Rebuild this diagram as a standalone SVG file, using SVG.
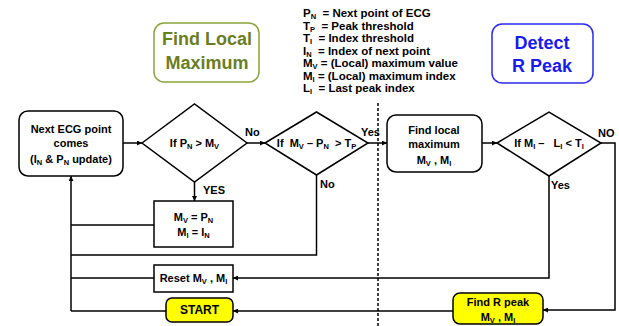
<svg xmlns="http://www.w3.org/2000/svg" width="619" height="326" viewBox="0 0 619 326">
<style>
text{font-family:"Liberation Sans",Arial,sans-serif;font-weight:bold;fill:#000;white-space:pre}
.t{font-size:11px;text-anchor:middle}
.lg{font-size:11.5px}
.s{font-size:7.5px}
.box{fill:#fff;stroke:#000;stroke-width:1.5}
.yel{fill:#ffff00;stroke:#000;stroke-width:1.5}
.ln{fill:none;stroke:#000;stroke-width:1.5}
.dot{fill:none;stroke:#000;stroke-width:1.5;stroke-dasharray:3 2}
</style>
<defs>
<marker id="ah" viewBox="0 0 10 10" refX="10" refY="5" markerWidth="5" markerHeight="5" orient="auto" markerUnits="userSpaceOnUse">
<path d="M0,0 L10,5 L0,10 z" fill="#000"/>
</marker>
</defs>
<rect width="619" height="326" fill="#fff"/>

<g id="title-local">
<rect x="154" y="23" width="105" height="59" rx="10" fill="#fff" stroke="#8aa33a" stroke-width="1.5"/>
<text x="207" y="45" style="font-size:18px;text-anchor:middle;fill:#6b7d22">Find Local</text>
<text x="207" y="69" style="font-size:18px;text-anchor:middle;fill:#6b7d22">Maximum</text>
</g>
<g id="title-detect">
<rect x="492" y="24" width="101" height="59" rx="10" fill="#fff" stroke="#2a2aee" stroke-width="1.5"/>
<text x="542" y="49" style="font-size:18px;text-anchor:middle;fill:#1a1aee">Detect</text>
<text x="542" y="72" style="font-size:18px;text-anchor:middle;fill:#1a1aee">R Peak</text>
</g>
<g id="legend">
<text class="lg" x="303" y="17">P<tspan class="s" baseline-shift="-2">N</tspan>  = Next point of ECG</text>
<text class="lg" x="303" y="29.5">T<tspan class="s" baseline-shift="-2">P</tspan>  = Peak threshold</text>
<text class="lg" x="303" y="42">T<tspan class="s" baseline-shift="-2">I</tspan>  = Index threshold</text>
<text class="lg" x="303" y="54.5">I<tspan class="s" baseline-shift="-2">N</tspan>  = Index of next point</text>
<text class="lg" x="303" y="67">M<tspan class="s" baseline-shift="-2">V</tspan> = (Local) maximum value</text>
<text class="lg" x="303" y="79.5">M<tspan class="s" baseline-shift="-2">I</tspan> = (Local) maximum index</text>
<text class="lg" x="303" y="92">L<tspan class="s" baseline-shift="-2">I</tspan>  = Last peak index</text>
</g>

<g id="divider">
<line class="dot" x1="378" y1="103" x2="378" y2="326"/>
</g>

<g id="connectors">
<line class="ln" x1="123" y1="143" x2="142" y2="143" marker-end="url(#ah)"/>
<line class="ln" x1="247" y1="143" x2="265" y2="143" marker-end="url(#ah)"/>
<line class="ln" x1="194.5" y1="182" x2="194.5" y2="201" marker-end="url(#ah)"/>
<line class="ln" x1="368" y1="143" x2="387" y2="143" marker-end="url(#ah)"/>
<line class="ln" x1="482" y1="143" x2="497" y2="143" marker-end="url(#ah)"/>
<polyline class="ln" points="71,311 71,176" marker-end="url(#ah)"/>
<line class="ln" x1="154" y1="225" x2="71" y2="225"/>
<polyline class="ln" points="316.5,175 316.5,255 71,255"/>
<line class="ln" x1="154" y1="278" x2="71" y2="278"/>
<line class="ln" x1="166" y1="311" x2="71" y2="311"/>
<polyline class="ln" points="549,176 549,278 233,278" marker-end="url(#ah)"/>
<polyline class="ln" points="601,143 615,143 615,310 543,310" marker-end="url(#ah)"/>
<line class="ln" x1="453" y1="311" x2="233" y2="311" marker-end="url(#ah)"/>
<text x="245" y="136" style="font-size:11px">No</text>
<text x="203" y="194" style="font-size:11px">YES</text>
<text x="361" y="136" style="font-size:11px">Yes</text>
<text x="320" y="188" style="font-size:11px">No</text>
<text x="598" y="137" style="font-size:11px">NO</text>
<text x="551" y="189" style="font-size:11px">Yes</text>
</g>

<g id="next-ecg">
<rect class="box" x="19" y="111" width="104" height="65" rx="9"/>
<text class="t" x="71" y="133">Next ECG point</text>
<text class="t" x="71" y="147">comes</text>
<text class="t" x="71" y="163">(I<tspan class="s" baseline-shift="-2">N</tspan> &amp; P<tspan class="s" baseline-shift="-2">N</tspan> update)</text>
</g>
<g id="if-pn-mv">
<polygon class="box" points="142,143 194.5,104 247,143 194.5,182"/>
<text class="t" x="194.5" y="147">If P<tspan class="s" baseline-shift="-2">N</tspan> &gt; M<tspan class="s" baseline-shift="-2">V</tspan></text>
</g>
<g id="set-mv">
<rect class="box" x="154" y="201" width="79" height="46"/>
<text class="t" x="193.5" y="221">M<tspan class="s" baseline-shift="-2">V</tspan> = P<tspan class="s" baseline-shift="-2">N</tspan></text>
<text class="t" x="193.5" y="236">M<tspan class="s" baseline-shift="-2">I</tspan> = I<tspan class="s" baseline-shift="-2">N</tspan></text>
</g>
<g id="if-mv-pn">
<polygon class="box" points="265,143 316.5,112 368,143 316.5,175"/>
<text class="t" x="316.5" y="147">If  M<tspan class="s" baseline-shift="-2">V</tspan> – P<tspan class="s" baseline-shift="-2">N</tspan>  &gt; T<tspan class="s" baseline-shift="-2">P</tspan></text>
</g>
<g id="find-local">
<rect class="box" x="387" y="115" width="95" height="57" rx="9"/>
<text class="t" x="434" y="134">Find local</text>
<text class="t" x="434" y="148">maximum</text>
<text class="t" x="434" y="164">M<tspan class="s" baseline-shift="-2">V</tspan> , M<tspan class="s" baseline-shift="-2">I</tspan></text>
</g>
<g id="if-mi-li">
<polygon class="box" points="497,143 549,112 601,143 549,176"/>
<text class="t" x="549" y="147">If M<tspan class="s" baseline-shift="-2">I</tspan> –   L<tspan class="s" baseline-shift="-2">I</tspan> &lt; T<tspan class="s" baseline-shift="-2">I</tspan></text>
</g>
<g id="reset">
<rect class="box" x="154" y="265" width="79" height="27"/>
<text class="t" x="193.5" y="282">Reset M<tspan class="s" baseline-shift="-2">V</tspan> , M<tspan class="s" baseline-shift="-2">I</tspan></text>
</g>
<g id="start">
<rect class="yel" x="166" y="298" width="67" height="24" rx="6"/>
<text class="t" x="199.5" y="314" style="font-size:12px">START</text>
</g>
<g id="find-r-peak">
<rect class="yel" x="453" y="293" width="90" height="31" rx="7"/>
<text class="t" x="498" y="306">Find R peak</text>
<text class="t" x="498" y="321">M<tspan class="s" baseline-shift="-2">V</tspan> , M<tspan class="s" baseline-shift="-2">I</tspan></text>
</g>
</svg>
